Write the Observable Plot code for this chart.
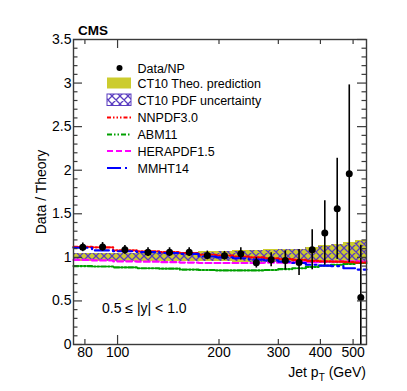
<!DOCTYPE html>
<html><head><meta charset="utf-8">
<script src="https://cdn.jsdelivr.net/npm/d3@7"></script>
<script src="https://cdn.jsdelivr.net/npm/@observablehq/plot@0.6"></script>
<style>
body{margin:0;background:#fff}
#chart svg{font-family:"Liberation Sans",Arial,Helvetica,sans-serif;background:#fff}
</style>
</head><body><div id="chart"></div>
<script>
// ---- data ----
const binEdges = [74, 84, 97, 114, 133, 153, 174, 196, 220, 245, 272, 300, 330, 362, 395, 430, 468, 507, 548];
const dataRatio = [1.115, 1.12, 1.087, 1.06, 1.06, 1.06, 1.022, 1.018, 1.04, 0.937, 0.972, 0.964, 0.941, 1.087, 1.28, 1.557, 1.959, 0.539];
const dataErr   = [0.05, 0.05, 0.05, 0.05, 0.05, 0.05, 0.05, 0.05, 0.07, 0.06, 0.08, 0.11, 0.15, 0.23, 0.37, 0.58, 1.02, 0.60];
const theoLo = [0.95, 0.95, 0.95, 0.95, 0.95, 0.95, 0.95, 0.95, 0.945, 0.94, 0.94, 0.935, 0.93, 0.93, 0.925, 0.925, 0.92, 0.915];
const theoHi = [1.05, 1.05, 1.05, 1.055, 1.06, 1.06, 1.065, 1.07, 1.075, 1.08, 1.085, 1.09, 1.095, 1.115, 1.135, 1.15, 1.165, 1.19];
const pdfLo  = [0.955, 0.955, 0.955, 0.955, 0.955, 0.955, 0.955, 0.955, 0.95, 0.945, 0.945, 0.94, 0.935, 0.935, 0.93, 0.93, 0.925, 0.92];
const pdfHi  = [1.045, 1.045, 1.045, 1.05, 1.055, 1.055, 1.06, 1.065, 1.07, 1.075, 1.08, 1.085, 1.09, 1.11, 1.13, 1.145, 1.16, 1.185];
const nnpdf  = [1.12, 1.115, 1.08, 1.07, 1.06, 1.05, 1.03, 1.02, 1.01, 1.0, 0.99, 0.98, 0.97, 0.96, 0.955, 0.95, 0.945, 0.94];
const abm11  = [0.90, 0.895, 0.885, 0.875, 0.87, 0.86, 0.855, 0.85, 0.85, 0.85, 0.855, 0.865, 0.875, 0.89, 0.905, 0.915, 0.925, 0.935];
const hera   = [0.97, 0.965, 0.955, 0.95, 0.945, 0.94, 0.935, 0.935, 0.935, 0.935, 0.94, 0.94, 0.945, 0.945, 0.95, 0.95, 0.955, 0.955];
const mmht   = [1.11, 1.08, 1.07, 1.06, 1.05, 1.04, 1.01, 1.0, 0.99, 0.975, 0.965, 0.95, 0.935, 0.915, 0.905, 0.9, 0.875, 0.86];
const xTickLabels = [80, 100, 200, 300, 400, 500];
const xMajorTicks = [100];
const yTickLabels = [0, 0.5, 1, 1.5, 2, 2.5, 3, 3.5];
const legendLabels = ["Data/NP", "CT10 Theo. prediction", "CT10 PDF uncertainty", "NNPDF3.0", "ABM11", "HERAPDF1.5", "MMHT14"];
const rapidityLabel = "0.5 \u2264 |y| < 1.0";

// ---- layout ----
const W = 407, H = 391, mL = 73, mR = 41, mT = 39, mB = 47;
const fw = W - mL - mR, fh = H - mT - mB;
const axisColor = "#3a3a3a";
const colors = {theo: "#cccc2e", hatch: "#5a3cc0", nnpdf: "#ff0000", abm: "#00a000", hera: "#ff00ff", mmht: "#0000ff"};
const styles = {
  nnpdf: {stroke: colors.nnpdf, dash: "4,2,1.5,2,1.5,2,1.5,2"},
  abm:   {stroke: colors.abm, dash: "5,2,1.5,2,1.5,2"},
  hera:  {stroke: colors.hera, dash: "6,3"},
  mmht:  {stroke: colors.mmht, dash: "14,4,2,4"}
};

const bins = d3.range(binEdges.length - 1).map(i => ({
  x1: binEdges[i], x2: binEdges[i + 1], xc: Math.sqrt(binEdges[i] * binEdges[i + 1]),
  v: dataRatio[i], e: dataErr[i], tlo: theoLo[i], thi: theoHi[i], plo: pdfLo[i], phi: pdfHi[i]
}));
function steps(vals) {
  const a = vals.map((v, i) => ({x: binEdges[i], y: v}));
  a.push({x: binEdges[binEdges.length - 1], y: vals[vals.length - 1]});
  return a;
}
const yMinor = d3.range(0, 36).map(i => i / 10).filter(v => Math.abs(v * 2 - Math.round(v * 2)) > 1e-6);
const xMinor = xTickLabels.filter(v => !xMajorTicks.includes(v));

function stepLine(vals, s) {
  return Plot.line(steps(vals), {x: "x", y: "y", curve: "step-after", stroke: s.stroke, strokeWidth: 2.2, strokeDasharray: s.dash});
}

const plot = Plot.plot({
  width: W, height: H, marginLeft: mL, marginRight: mR, marginTop: mT, marginBottom: mB,
  x: {type: "log", domain: [binEdges[0], binEdges[binEdges.length - 1]], axis: null},
  y: {domain: [0, 3.5], axis: null},
  style: {fontFamily: "'Liberation Sans', Arial, sans-serif", fontSize: "13px", color: "#000", background: "#fff"},
  marks: [
    Plot.rect(bins, {x1: "x1", x2: "x2", y1: "tlo", y2: "thi", fill: colors.theo, shapeRendering: "crispEdges"}),
    Plot.rect(bins, {x1: "x1", x2: "x2", y1: "plo", y2: "phi", fill: "url(#xhatch)", shapeRendering: "crispEdges"}),
    stepLine(abm11, styles.abm),
    stepLine(hera, styles.hera),
    stepLine(nnpdf, styles.nnpdf),
    stepLine(mmht, styles.mmht),
    Plot.ruleX(bins, {x: "xc", y1: d => Math.max(0, d.v - d.e), y2: d => d.v + d.e, stroke: "#000", strokeWidth: 1.6}),
    Plot.dot(bins, {x: "xc", y: "v", r: 3.5, fill: "#000", stroke: "none"}),
    // inward ticks
    Plot.tickY(yTickLabels, {y: d => d, insetRight: fw - 9, stroke: axisColor, strokeWidth: 1.2}),
    Plot.tickY(yMinor, {y: d => d, insetRight: fw - 4.5, stroke: axisColor, strokeWidth: 1.2}),
    Plot.tickY(yTickLabels, {y: d => d, insetLeft: fw - 9, stroke: axisColor, strokeWidth: 1.2}),
    Plot.tickY(yMinor, {y: d => d, insetLeft: fw - 4.5, stroke: axisColor, strokeWidth: 1.2}),
    Plot.tickX(xMajorTicks, {x: d => d, insetTop: fh - 9, stroke: axisColor, strokeWidth: 1.2}),
    Plot.tickX(xMinor, {x: d => d, insetTop: fh - 5, stroke: axisColor, strokeWidth: 1.2}),
    Plot.tickX(xMajorTicks, {x: d => d, insetBottom: fh - 9, stroke: axisColor, strokeWidth: 1.2}),
    Plot.tickX(xMinor, {x: d => d, insetBottom: fh - 5, stroke: axisColor, strokeWidth: 1.2}),
    // tick labels
    Plot.text(xTickLabels, {x: d => d, frameAnchor: "bottom", lineAnchor: "top", dy: 3, text: d => String(d), fontSize: 14, fill: "#000"}),
    Plot.text(yTickLabels, {y: d => d, frameAnchor: "left", textAnchor: "end", dx: -2, text: d => String(d), fontSize: 14, fill: "#000"}),
    Plot.frame({stroke: axisColor, strokeWidth: 1.4})
  ]
});
document.getElementById("chart").appendChild(plot);

// ---- decorations: pattern, titles, legend ----
const svg = d3.select(plot);
const defs = svg.insert("defs", ":first-child");
const pat = defs.append("pattern").attr("id", "xhatch").attr("patternUnits", "userSpaceOnUse")
  .attr("width", 8).attr("height", 8);
pat.append("path").attr("d", "M0,0L8,8M-1,7L1,9M7,-1L9,1M0,8L8,0M-1,1L1,-1M7,9L9,7")
  .attr("stroke", colors.hatch).attr("stroke-width", 1.3).attr("fill", "none");

const font = "'Liberation Sans', Arial, sans-serif";
svg.append("text").attr("x", 78).attr("y", 35).attr("text-anchor", "start").attr("font-family", font).attr("font-size", 13.5)
  .attr("font-weight", "bold").text("CMS");
svg.append("text").attr("transform", "translate(46,192) rotate(-90)").attr("text-anchor", "middle")
  .attr("font-family", font).attr("font-size", 14).text("Data / Theory");
const xt = svg.append("text").attr("x", W - mR).attr("y", 377).attr("text-anchor", "end")
  .attr("font-family", font).attr("font-size", 14);
xt.append("tspan").text("Jet p");
xt.append("tspan").attr("font-size", 10).attr("dy", 4).text("T");
xt.append("tspan").attr("dy", -4).text(" (GeV)");
svg.append("text").attr("x", 102).attr("y", 313).attr("text-anchor", "start").attr("font-family", font).attr("font-size", 14).text(rapidityLabel);

const lg = svg.append("g").attr("font-family", font).attr("font-size", 12.5).attr("text-anchor", "start");
const ly = [68, 83, 100, 117.5, 134.5, 151, 168];
const bx1 = 107, bx2 = 131, tx = 137.5;
ly.forEach((y, i) => {
  lg.append("text").attr("x", tx).attr("y", y).attr("dy", "0.36em").text(legendLabels[i]);
});
lg.append("circle").attr("cx", 119.5).attr("cy", ly[0]).attr("r", 3).attr("fill", "#000");
lg.append("rect").attr("x", bx1).attr("y", ly[1] - 5.5).attr("width", bx2 - bx1).attr("height", 11).attr("fill", colors.theo);
lg.append("rect").attr("x", bx1).attr("y", ly[2] - 6).attr("width", bx2 - bx1).attr("height", 11.5)
  .attr("fill", "url(#xhatch)").attr("stroke", colors.hatch).attr("stroke-width", 1);
[styles.nnpdf, styles.abm, styles.hera, styles.mmht].forEach((s, i) => {
  lg.append("line").attr("x1", bx1).attr("x2", bx2).attr("y1", ly[3 + i]).attr("y2", ly[3 + i])
    .attr("stroke", s.stroke).attr("stroke-width", 2).attr("stroke-dasharray", s.dash);
});
</script>
</body></html>
